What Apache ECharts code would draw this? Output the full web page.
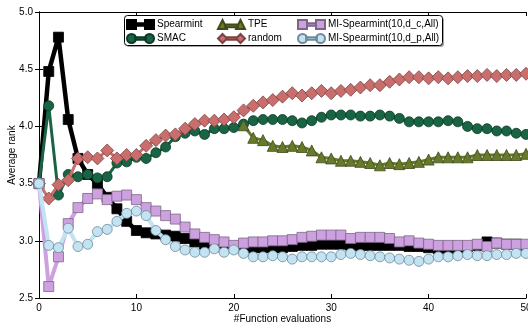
<!DOCTYPE html>
<html>
<head>
<meta charset="utf-8">
<script src="https://cdn.jsdelivr.net/npm/echarts@6/dist/echarts.min.js"></script>
<style>
html, body { margin: 0; padding: 0; background: #fff; }
#chart { width: 528px; height: 328px; }
</style>
</head>
<body>
<div id="chart"></div>
<script>
// average rank per number of function evaluations (0..50)
var spearmint = [3.50, 4.48, 4.78, 4.06, 3.72, 3.58, 3.50, 3.38, 3.28, 3.17,
	3.09, 3.07, 3.06, 3.05, 3.04, 3.02, 2.99, 2.97, 2.95, 2.94,
	2.94, 2.93, 2.94, 2.94, 2.94, 2.94, 2.95, 2.96, 2.96, 2.97,
	2.97, 2.97, 2.96, 2.96, 2.96, 2.96, 2.96, 2.96, 2.95, 2.95,
	2.94, 2.93, 2.94, 2.93, 2.95, 2.96, 2.99, 2.98, 2.97, 2.97, 2.96];
var smac = [3.50, 4.18, 3.40, 3.58, 3.56, 3.58, 3.55, 3.56, 3.68, 3.69,
	3.73, 3.72, 3.77, 3.82, 3.91, 3.94, 3.96, 3.93, 3.98, 3.98,
	3.99, 4.02, 4.05, 4.06, 4.06, 4.06, 4.05, 4.03, 4.05, 4.08,
	4.10, 4.10, 4.10, 4.09, 4.09, 4.10, 4.09, 4.07, 4.04, 4.04,
	4.04, 4.04, 4.05, 4.04, 4.00, 3.98, 3.98, 3.96, 3.96, 3.94, 3.93];
var tpe = [null, null, null, null, null, null, null, null, null, null,
	null, null, null, null, null, null, null, null, null, null,
	null, 4.01, 3.90, 3.88, 3.83, 3.82, 3.83, 3.82, 3.79, 3.73,
	3.72, 3.70, 3.70, 3.69, 3.68, 3.66, 3.68, 3.67, 3.68, 3.69,
	3.71, 3.73, 3.73, 3.73, 3.73, 3.75, 3.75, 3.75, 3.75, 3.75, 3.76];
var random = [3.50, 3.37, 3.49, 3.53, 3.72, 3.73, 3.72, 3.79, 3.72, 3.75,
	3.75, 3.83, 3.88, 3.92, 3.93, 3.98, 4.02, 4.05, 4.05, 4.06,
	4.08, 4.14, 4.18, 4.21, 4.23, 4.26, 4.29, 4.27, 4.29, 4.31,
	4.29, 4.31, 4.32, 4.34, 4.36, 4.36, 4.39, 4.41, 4.43, 4.43,
	4.42, 4.43, 4.42, 4.43, 4.44, 4.44, 4.45, 4.44, 4.45, 4.45, 4.46];
var miDc = [3.50, 2.60, 2.86, 3.15, 3.29, 3.37, 3.41, 3.36, 3.39, 3.40,
	3.36, 3.29, 3.26, 3.22, 3.19, 3.12, 3.06, 3.03, 3.01, 2.99,
	2.96, 2.98, 2.99, 2.99, 3.00, 3.00, 3.01, 3.03, 3.04, 3.05,
	3.05, 3.05, 3.02, 3.03, 3.03, 3.03, 3.02, 2.99, 3.00, 2.98,
	2.97, 2.96, 2.96, 2.96, 2.96, 2.97, 2.95, 2.98, 2.97, 2.97, 2.97];
var miDp = [3.50, 2.96, 2.94, 3.11, 2.95, 2.97, 3.08, 3.10, 3.17, 3.24,
	3.26, 3.22, 3.09, 3.01, 2.95, 2.92, 2.90, 2.90, 2.93, 2.90,
	2.92, 2.89, 2.86, 2.86, 2.87, 2.86, 2.84, 2.86, 2.86, 2.86,
	2.86, 2.88, 2.89, 2.88, 2.87, 2.86, 2.85, 2.84, 2.83, 2.82,
	2.84, 2.86, 2.86, 2.87, 2.88, 2.87, 2.87, 2.88, 2.88, 2.89, 2.89];

var font = 'Liberation Sans, Arial, sans-serif';

// legend icons: two markers joined by a line, like matplotlib
var icons = {
	square: 'path://M0,0L10,0L10,10L0,10ZM10,3.5L20,3.5L20,6.5L10,6.5ZM20,0L30,0L30,10L20,10Z',
	circle: 'path://M0,5A5,5 0 1,1 10,5A5,5 0 1,1 0,5ZM9,3.5L21,3.5L21,6.5L9,6.5ZM20,5A5,5 0 1,1 30,5A5,5 0 1,1 20,5Z',
	triangle: 'path://M5,0L10,10L0,10ZM8,5L22,5L22,8L8,8ZM25,0L30,10L20,10Z',
	diamond: 'path://M5,0L10,5L5,10L0,5ZM10,3.5L20,3.5L20,6.5L10,6.5ZM25,0L30,5L25,10L20,5Z'
};

function pairs(arr) {
	var out = [];
	for (var i = 0; i < arr.length; i++) {
		if (arr[i] !== null) out.push([i, arr[i]]);
	}
	return out;
}

function makeSeries(name, arr, color, symbol, size, lineWidth, edge, z) {
	return {
		name: name,
		type: 'line',
		data: pairs(arr),
		symbol: symbol,
		symbolSize: size,
		showSymbol: true,
		showAllSymbol: true,
		z: z,
		clip: true,
		animation: false,
		lineStyle: { color: color, width: lineWidth },
		itemStyle: { color: color, borderColor: edge, borderWidth: 0.8, opacity: 1 },
		emphasis: { disabled: true }
	};
}

var chart = echarts.init(document.getElementById('chart'));

function legendCol(left, items) {
	return {
		orient: 'vertical',
		left: left,
		top: 19,
		z: 60,
		itemWidth: 27,
		itemHeight: 9,
		itemGap: 3,
		padding: 0,
		selectedMode: false,
		textStyle: { fontFamily: font, fontSize: 10, color: '#000', padding: [0, 0, 0, -2] },
		data: items
	};
}

var tickStyle = { show: true, inside: true, length: 4, lineStyle: { color: '#000' } };
var frameLine = { show: true, lineStyle: { color: '#000', width: 1 } };

var option = {
	backgroundColor: '#fff',
	animation: false,
	grid: { left: 39, right: 2, top: 12, bottom: 30, outerBoundsMode: 'none' },
	graphic: [{
		type: 'rect',
		shape: { x: 126, y: 17, width: 318, height: 30, r: 3 },
		style: { fill: 'rgba(0,0,0,0.35)' },
		z: 49
	}, {
		type: 'rect',
		shape: { x: 124.5, y: 15.5, width: 318, height: 30, r: 3 },
		style: { fill: '#fff', stroke: '#000', lineWidth: 1 },
		z: 50
	}],
	legend: [
		legendCol(126, [{ name: 'Spearmint', icon: icons.square }, { name: 'SMAC', icon: icons.circle }]),
		legendCol(217, [{ name: 'TPE', icon: icons.triangle }, { name: 'random', icon: icons.diamond }]),
		legendCol(297, [{ name: 'MI-Spearmint(10,d_c,All)', icon: icons.square }, { name: 'MI-Spearmint(10,d_p,All)', icon: icons.circle }])
	],
	xAxis: [{
		type: 'value',
		min: 0,
		max: 50,
		interval: 10,
		name: '#Function evaluations',
		nameLocation: 'middle',
		nameGap: 16,
		nameMoveOverlap: false,
		nameTextStyle: { fontFamily: font, fontSize: 10, color: '#000' },
		axisLine: frameLine,
		axisTick: tickStyle,
		axisLabel: { fontFamily: font, fontSize: 10, color: '#000', margin: 5 },
		splitLine: { show: false }
	}, {
		type: 'value',
		position: 'top',
		min: 0,
		max: 50,
		interval: 10,
		axisLine: frameLine,
		axisTick: tickStyle,
		axisLabel: { show: false },
		splitLine: { show: false }
	}],
	yAxis: [{
		type: 'value',
		min: 2.5,
		max: 5.0,
		interval: 0.5,
		name: 'Average rank',
		nameLocation: 'middle',
		nameGap: 22,
		nameMoveOverlap: false,
		nameTextStyle: { fontFamily: font, fontSize: 10, color: '#000' },
		axisLine: frameLine,
		axisTick: tickStyle,
		axisLabel: {
			fontFamily: font, fontSize: 10, color: '#000', margin: 6,
			formatter: function(v) { return v.toFixed(1); }
		},
		splitLine: { show: false }
	}, {
		type: 'value',
		position: 'right',
		min: 2.5,
		max: 5.0,
		interval: 0.5,
		axisLine: frameLine,
		axisTick: tickStyle,
		axisLabel: { show: false },
		splitLine: { show: false }
	}],
	series: [
		makeSeries('Spearmint', spearmint, '#000000', 'rect', 10, 4.5, '#000000', 2),
		makeSeries('SMAC', smac, '#196444', 'circle', 10, 3, '#0b3a26', 3),
		makeSeries('TPE', tpe, '#677a2c', 'triangle', 11, 3, '#3e4a18', 4),
		makeSeries('random', random, '#c96e6c', 'diamond', 13, 3, '#7a4444', 5),
		makeSeries('MI-Spearmint(10,d_c,All)', miDc, '#cda0e0', 'rect', 10, 4, '#7d6488', 6),
		makeSeries('MI-Spearmint(10,d_p,All)', miDp, '#c3e2f2', 'circle', 10, 4, '#6f8a99', 7)
	]
};

chart.setOption(option);
</script>
</body>
</html>
